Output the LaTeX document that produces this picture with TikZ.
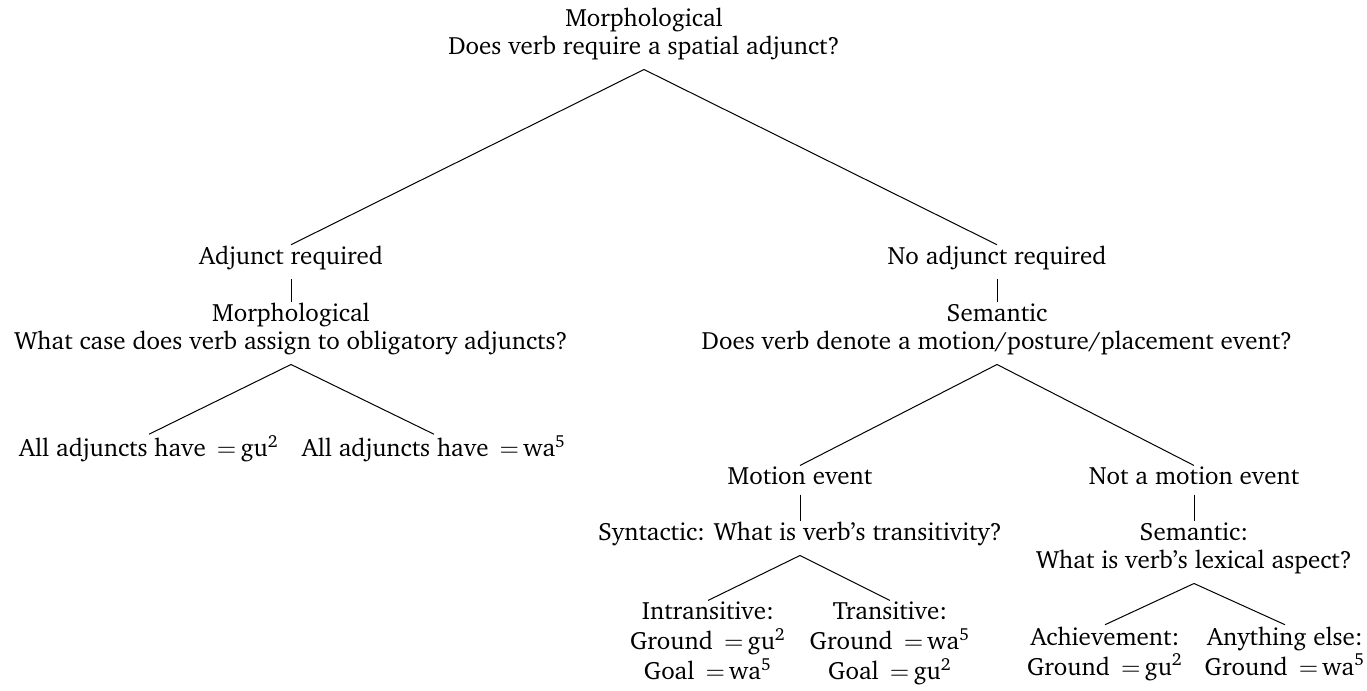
\documentclass[tikz,border=0pt]{standalone}
\usepackage[T1]{fontenc}
\usepackage{charter}
\newcommand{\gux}{\,$=$\,gu\textsuperscript{2}}
\newcommand{\wax}{\,$=$\,wa\textsuperscript{5}}
\begin{document}
\begin{tikzpicture}[x=0.4pt,y=-0.4pt,
  lab/.style={anchor=base,align=center,inner xsep=0pt,inner ysep=2pt,font=\fontsize{10}{11.2}\selectfont},
  dn/.style={yshift=-1.5pt},
  edge/.style={line width=0.4pt,black}]
\useasboundingbox (0,0) rectangle (1367,691);
\node[lab] (root) at (644,55) {Morphological\\Does verb require a spatial adjunct?};
\node[lab] (adj) at (291,265) {Adjunct required};
\node[lab] (adjq) at (291,350) {Morphological\\What case does verb assign to obligatory adjuncts?};
\node[lab] (gu) at (149,457) {All adjuncts have \gux};
\node[lab] (wa) at (434,457) {All adjuncts have \wax};
\node[lab] (noadj) at (997,265) {No adjunct required};
\node[lab] (sem) at (997,350) {Semantic\\Does verb denote a motion/posture/placement event?};
\node[lab] (mot) at (800,485) {Motion event};
\node[lab] (notmot) at (1194,485) {Not a motion event};
\node[lab] (syn) at (800,541) {Syntactic: What is verb's transitivity?};
\node[lab] (semasp) at (1194,569) {Semantic:\\What is verb's lexical aspect?};
\node[lab] (intr) at (708,680) {Intransitive:\\[0.8pt]Ground \gux\\[0.8pt]Goal \wax};
\node[lab] (tr) at (890,680) {Transitive:\\[0.8pt]Ground \wax\\[0.8pt]Goal \gux};
\node[lab] (ach) at (1105,675) {Achievement:\\[0.8pt]Ground \gux};
\node[lab] (any) at (1285,675) {Anything else:\\[0.8pt]Ground \wax};
\draw[edge] ([dn]root.south) -- ([dn]adj.north);
\draw[edge] ([dn]root.south) -- ([dn]noadj.north);
\draw[edge] ([dn]adj.south) -- ([dn]adjq.north);
\draw[edge] ([dn]adjq.south) -- ([dn]gu.north);
\draw[edge] ([dn]adjq.south) -- ([dn]wa.north);
\draw[edge] ([dn]noadj.south) -- ([dn]sem.north);
\draw[edge] ([dn]sem.south) -- ([dn]mot.north);
\draw[edge] ([dn]sem.south) -- ([dn]notmot.north);
\draw[edge] ([dn]mot.south) -- ([dn]syn.north);
\draw[edge] ([dn]syn.south) -- ([dn]intr.north);
\draw[edge] ([dn]syn.south) -- ([dn]tr.north);
\draw[edge] ([dn]notmot.south) -- ([dn]semasp.north);
\draw[edge] ([dn]semasp.south) -- ([dn]ach.north);
\draw[edge] ([dn]semasp.south) -- ([dn]any.north);
\end{tikzpicture}
\end{document}
